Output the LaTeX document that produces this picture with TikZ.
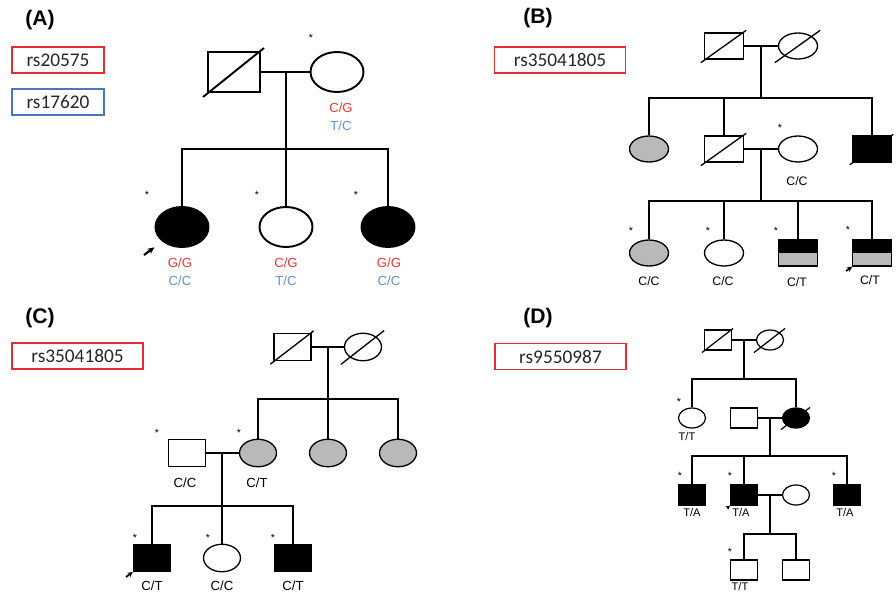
\documentclass[tikz,border=0pt]{standalone}
\usepackage{fontspec}
\setmainfont{Liberation Sans}
\newfontfamily\rsfont{Carlito}
\usetikzlibrary{shapes.geometric,calc,arrows.meta}

\definecolor{boxred}{RGB}{228,45,45}
\definecolor{boxblue}{RGB}{75,120,185}
\definecolor{gtred}{RGB}{235,55,55}
\definecolor{gtblue}{RGB}{100,145,205}
\definecolor{affgray}{RGB}{185,185,185}

\tikzset{
  male/.style={draw, rectangle, inner sep=0pt},
  female/.style={draw, ellipse, inner sep=0pt},
  aff/.style={fill=black},
  carrier/.style={fill=affgray},
  halfaff/.style={fill=affgray,
    path picture={\fill[black] (path picture bounding box.north west) rectangle (path picture bounding box.east);}},
  rsbox/.style={draw, line width=0.8pt, inner sep=0pt, minimum height=0.52cm,
    text=black!85, font=\rsfont\fontsize{11}{13}\selectfont},
  panel/.style={inner sep=0pt, font=\bfseries\fontsize{12}{14}\selectfont},
  gt/.style={inner sep=0pt, font=\fontsize{7}{8}\selectfont},
  ast/.style={inner sep=0pt, font=\fontsize{6}{6}\selectfont},
  proband/.style={-{Stealth[length=4pt,width=3.5pt]}, line width=1pt},
}
% slash over a deceased individual
\newcommand\deceased[2][3]{\draw ($(#2.west |- #2.south)+(-#1,#1)$) -- ($(#2.east |- #2.north)+(#1-1,1-#1)$);}

\begin{document}
\begin{tikzpicture}[x=0.02cm, y=-0.02cm]
  \useasboundingbox (0,0) rectangle (896,592);

  % (A)
  \begin{scope}[line width=1.1pt,
      male/.append style={minimum width=1.04cm, minimum height=0.8cm},
      female/.append style={minimum width=1.06cm, minimum height=0.8cm},
      gt/.append style={font=\fontsize{7.5}{8}\selectfont}]
    \node[panel] (a-lab) at (40,20) {(A)};
    \node[rsbox, draw=boxred, minimum width=1.84cm] (a-rs1) at (58,60) {rs20575};
    \node[rsbox, draw=boxblue, minimum width=1.84cm] (a-rs2) at (58,102) {rs17620};

    \node[male] (a-fa) at (234,72) {};
    \node[female] (a-mo) at (337,72) {};
    \deceased[4]{a-fa}
    \draw (a-fa) -- (a-mo);
    \coordinate (a-mar) at (286,72);
    \coordinate (a-sib) at (286,149);
    \draw (a-mar) -- (a-sib);
    \node[ast] (a-st0) at (311,38) {*};
    \node[gt, text=gtred] (a-mo-g1) at (341,108) {C/G};
    \node[gt, text=gtblue] (a-mo-g2) at (341,126) {T/C};

    \node[female, aff] (a-c1) at (182,227) {};
    \node[female] (a-c2) at (286,227) {};
    \node[female, aff] (a-c3) at (388,227) {};
    \draw (a-c1) |- (a-sib) -| (a-c3);
    \draw (a-sib) -- (a-c2);
    \node[ast] (a-st1) at (147,195) {*};
    \node[ast] (a-st2) at (257,195) {*};
    \node[ast] (a-st3) at (356,195) {*};
    \node[gt, text=gtred] (a-c1-g1) at (180,263) {G/G};
    \node[gt, text=gtblue] (a-c1-g2) at (180,281) {C/C};
    \node[gt, text=gtred] (a-c2-g1) at (286,263) {C/G};
    \node[gt, text=gtblue] (a-c2-g2) at (286,281) {T/C};
    \node[gt, text=gtred] (a-c3-g1) at (389,263) {G/G};
    \node[gt, text=gtblue] (a-c3-g2) at (389,281) {C/C};
    \coordinate (a-arr) at (144,255);
    \draw[proband, line width=1.2pt, shorten >=5.5pt] (a-arr) -- (a-c1);
  \end{scope}

  % (B)
  \begin{scope}[shift={(448,0)}, line width=0.75pt,
      male/.append style={minimum width=0.78cm, minimum height=0.52cm},
      female/.append style={minimum width=0.78cm, minimum height=0.52cm}]
    \node[panel] (b-lab) at (90,18) {(B)};
    \node[rsbox, draw=boxred, minimum width=2.62cm] (b-rs) at (112,60) {rs35041805};

    \node[male] (b-gf) at (276,46) {};
    \node[female] (b-gm) at (350,46) {};
    \deceased{b-gf}
    \deceased{b-gm}
    \draw (b-gf) -- (b-gm);
    \coordinate (b-mar1) at (313,46);
    \coordinate (b-sib1) at (313,98);
    \draw (b-mar1) -- (b-sib1);

    \node[female, carrier] (b-d1) at (201,149) {};
    \node[male] (b-s1) at (276,149) {};
    \node[female] (b-sp) at (350,149) {};
    \node[male, aff] (b-s2) at (424,149) {};
    \deceased{b-s1}
    \deceased[2]{b-s2}
    \draw (b-d1) |- (b-sib1) -| (b-s2);
    \draw (b-s1) -- (b-s1 |- b-sib1);
    \draw (b-s1) -- (b-sp);
    \coordinate (b-mar2) at (313,149);
    \coordinate (b-sib2) at (313,201);
    \draw (b-mar2) -- (b-sib2);
    \node[ast] (b-st0) at (332,128) {*};
    \node[gt] (b-sp-g) at (349,181) {C/C};

    \node[female, carrier] (b-c1) at (201,253) {};
    \node[female] (b-c2) at (276,253) {};
    \node[male, halfaff] (b-c3) at (350,253) {};
    \node[male, halfaff] (b-c4) at (424,253) {};
    \draw (b-c1) |- (b-sib2) -| (b-c4);
    \draw (b-c2) -- (b-c2 |- b-sib2);
    \draw (b-c3) -- (b-c3 |- b-sib2);
    \node[ast] (b-st1) at (183,231) {*};
    \node[ast] (b-st2) at (260,231) {*};
    \node[ast] (b-st3) at (328,231) {*};
    \node[ast] (b-st4) at (400,230) {*};
    \node[gt] (b-c1-g) at (201,281) {C/C};
    \node[gt] (b-c2-g) at (275,281) {C/C};
    \node[gt] (b-c3-g) at (349,282) {C/T};
    \node[gt] (b-c4-g) at (422,280) {C/T};
    \coordinate (b-arr) at (398,271);
    \draw[proband, -{Stealth[length=3pt,width=3pt]}] (b-arr) -- (b-c4);
  \end{scope}

  % (C)
  \begin{scope}[shift={(0,300)}, line width=0.75pt,
      male/.append style={minimum width=0.74cm, minimum height=0.54cm},
      female/.append style={minimum width=0.74cm, minimum height=0.55cm},
      gt/.append style={font=\fontsize{7.5}{8}\selectfont}]
    \node[panel] (c-lab) at (40,18) {(C)};
    \node[rsbox, draw=boxred, minimum width=2.62cm] (c-rs) at (77.5,56) {rs35041805};

    \node[male] (c-gf) at (292.5,47) {};
    \node[female] (c-gm) at (363,47) {};
    \deceased{c-gf}
    \deceased{c-gm}
    \draw (c-gf) -- (c-gm);
    \coordinate (c-mar1) at (328,47);
    \coordinate (c-sib1) at (328,99);
    \draw (c-mar1) -- (c-sib1);

    \node[male] (c-hu) at (187,153) {};
    \node[female, carrier] (c-d1) at (258,153) {};
    \node[female, carrier] (c-d2) at (328,153) {};
    \node[female, carrier] (c-d3) at (398,153) {};
    \draw (c-d1) |- (c-sib1) -| (c-d3);
    \draw (c-sib1) -- (c-d2);
    \draw (c-hu) -- (c-d1);
    \coordinate (c-mar2) at (222,153);
    \coordinate (c-sib2) at (222,206);
    \draw (c-mar2) -- (c-sib2);
    \node[ast] (c-st1) at (157,133) {*};
    \node[ast] (c-st2) at (239,133) {*};
    \node[gt] (c-hu-g) at (185,183) {C/C};
    \node[gt] (c-d1-g) at (257,183) {C/T};

    \node[male, aff] (c-c1) at (152,258) {};
    \node[female] (c-c2) at (222,258) {};
    \node[male, aff] (c-c3) at (293,258) {};
    \draw (c-c1) |- (c-sib2) -| (c-c3);
    \draw (c-sib2) -- (c-c2);
    \node[ast] (c-st3) at (135,238) {*};
    \node[ast] (c-st4) at (208,238) {*};
    \node[ast] (c-st5) at (273,238) {*};
    \node[gt] (c-c1-g) at (152,286) {C/T};
    \node[gt] (c-c2-g) at (222,286) {C/C};
    \node[gt] (c-c3-g) at (293,286) {C/T};
    \coordinate (c-arr) at (126,277);
    \draw[proband, -{Stealth[length=3pt,width=3pt]}] (c-arr) -- (c-c1);
  \end{scope}

  % (D)
  \begin{scope}[shift={(448,300)}, line width=0.7pt,
      male/.append style={minimum width=0.54cm, minimum height=0.4cm},
      female/.append style={minimum width=0.54cm, minimum height=0.4cm},
      gt/.append style={font=\fontsize{6.3}{7}\selectfont}]
    \node[panel] (d-lab) at (90,18) {(D)};
    \node[rsbox, draw=boxred, minimum width=2.62cm] (d-rs) at (112.5,56.5) {rs9550987};

    \node[male] (d-gf) at (270,40) {};
    \node[female] (d-gm) at (322,40) {};
    \deceased[2]{d-gf}
    \deceased[2]{d-gm}
    \draw (d-gf) -- (d-gm);
    \coordinate (d-mar1) at (296,40);
    \coordinate (d-sib1) at (296,79);
    \draw (d-mar1) -- (d-sib1);

    \node[female] (d-d1) at (244,118) {};
    \node[male] (d-hu) at (296,118) {};
    \node[female, aff] (d-d2) at (348,118) {};
    \deceased[1]{d-d2}
    \draw (d-d1) |- (d-sib1) -| (d-d2);
    \draw (d-hu) -- (d-d2);
    \coordinate (d-mar2) at (322,118);
    \coordinate (d-sib2) at (322,156);
    \draw (d-mar2) -- (d-sib2);
    \node[ast] (d-st1) at (231,102) {*};
    \node[gt] (d-d1-g) at (239,137) {T/T};

    \node[male, aff] (d-s1) at (244,195) {};
    \node[male, aff] (d-s2) at (296,195) {};
    \node[female] (d-sp) at (348,195) {};
    \node[male, aff] (d-s3) at (399,195) {};
    \draw (d-s1) |- (d-sib2) -| (d-s3);
    \draw (d-s2) -- (d-s2 |- d-sib2);
    \draw (d-s2) -- (d-sp);
    \coordinate (d-mar3) at (322,195);
    \coordinate (d-sib3) at (322,234);
    \draw (d-mar3) -- (d-sib3);
    \node[ast] (d-st2) at (232,176) {*};
    \node[ast] (d-st3) at (282,176) {*};
    \node[ast] (d-st4) at (386,176) {*};
    \node[gt] (d-s1-g) at (244,213) {T/A};
    \node[gt] (d-s2-g) at (293,213) {T/A};
    \node[gt] (d-s3-g) at (397,213) {T/A};
    \coordinate (d-arr) at (279,208);
    \draw[proband, -{Stealth[length=2.5pt,width=2.5pt]}] (d-arr) -- (d-s2);

    \node[male] (d-c1) at (296,270) {};
    \node[male] (d-c2) at (348,270) {};
    \draw (d-c1) |- (d-sib3) -| (d-c2);
    \node[ast] (d-st5) at (282,252) {*};
    \node[gt] (d-c1-g) at (292,287) {T/T};
  \end{scope}
\end{tikzpicture}
\end{document}
